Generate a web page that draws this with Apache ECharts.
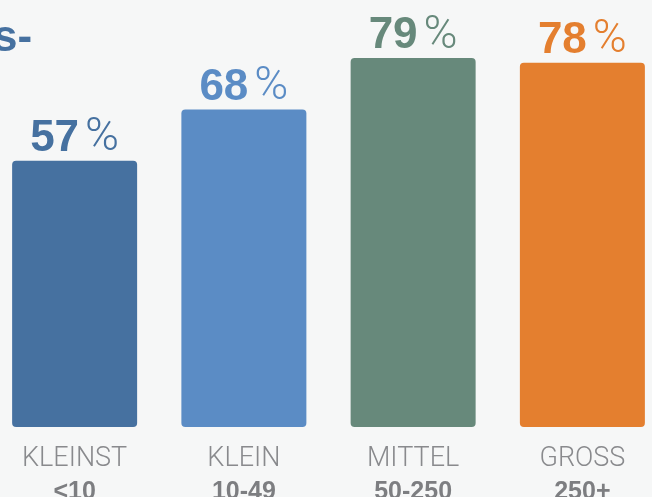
<!DOCTYPE html>
<html>
<head>
<meta charset="utf-8">
<script src="https://cdn.jsdelivr.net/npm/echarts@6/dist/echarts.min.js"></script>
<style>
  html, body { margin: 0; padding: 0; background: #f6f7f7; }
  #chart { width: 652px; height: 497px; }
</style>
</head>
<body>
<div id="chart"></div>
<script>
// data
const sizeNames = ['KLEINST', 'KLEIN', 'MITTEL', 'GROSS'];
const sizeRanges = ['<10', '10-49', '50-250', '250+'];
const shares = [57, 68, 79, 78];
const barColors = ['#4671a0', '#5b8cc5', '#67897b', '#e47f2f'];

var chart = echarts.init(document.getElementById('chart'));

var option = {
  backgroundColor: '#f6f7f7',
  textStyle: { fontFamily: 'Roboto' },
  animation: false,
  graphic: [{
    type: 'text',
    left: -7,
    top: 17,
    style: {
      text: 's-',
      fill: '#4671a0',
      font: 'bold 44px "Liberation Sans"'
    }
  }],
  grid: {
    top: -40,
    bottom: 70,
    left: -10,
    right: -15,
    outerBoundsMode: 'none',
    containLabel: false
  },
  xAxis: {
    type: 'category',
    data: sizeNames,
    axisLine: { show: false },
    axisTick: { show: false },
    axisLabel: {
      margin: 16,
      formatter: function (val, i) {
        return '{a|' + val + '}\n{b|' + sizeRanges[i] + '}';
      },
      rich: {
        a: { fontSize: 27, fontWeight: 300, color: '#898a8d', lineHeight: 33, fontFamily: 'Roboto' },
        b: { fontSize: 25, fontWeight: 'bold', color: '#7d7e81', lineHeight: 33, fontFamily: 'Liberation Sans' }
      }
    }
  },
  yAxis: {
    type: 'value',
    min: 0,
    max: 100,
    show: false,
    splitLine: { show: false }
  },
  series: [{
    type: 'bar',
    barWidth: 125,
    data: shares.map(function (v, i) {
      return {
        value: v,
        itemStyle: { color: barColors[i], borderRadius: 4 },
        label: {
          rich: {
            a: { fontSize: 44, fontWeight: 'bold', color: barColors[i], lineHeight: 44, fontFamily: 'Liberation Sans' },
            b: { fontSize: 46, fontWeight: 300, color: barColors[i], lineHeight: 44, fontFamily: 'Roboto', padding: [0, 0, 0, 6] }
          }
        }
      };
    }),
    label: {
      show: true,
      position: 'top',
      distance: 0,
      formatter: function (p) {
        return '{a|' + p.value + '}{b|%}';
      }
    }
  }]
};
chart.setOption(option);
</script>
</body>
</html>
